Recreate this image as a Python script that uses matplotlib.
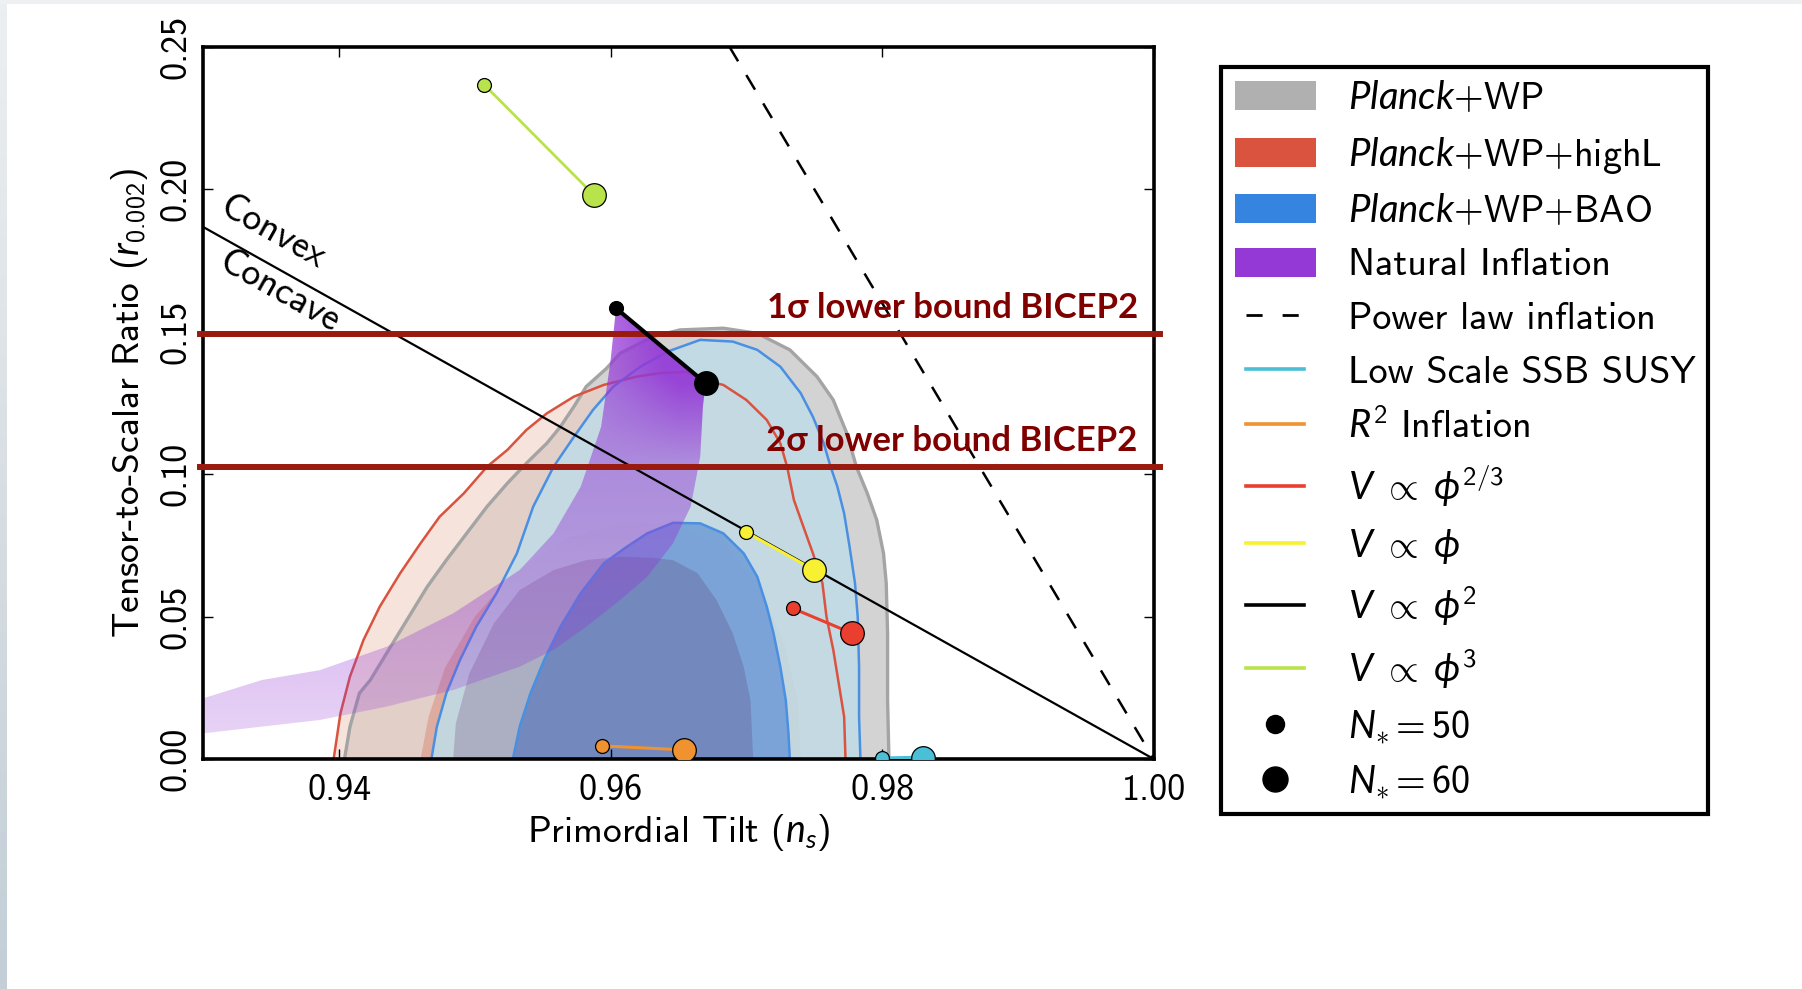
import numpy as np
import matplotlib
matplotlib.use('Agg')
import matplotlib.pyplot as plt
import matplotlib.colors as mcolors
from matplotlib.patches import Patch, Polygon, Rectangle
from matplotlib.lines import Line2D
from matplotlib.legend_handler import HandlerLine2D

# Planck 2013 constraints in the (n_s, r) plane, 68% and 95% contours
wp95_ns = [0.9404, 0.9408, 0.9415, 0.9423, 0.9435, 0.9450, 0.9465, 0.9479, 0.9494, 0.9509, 0.9524, 0.9538,
           0.9553, 0.9563, 0.9573, 0.9582, 0.9597, 0.9607, 0.9631, 0.9651, 0.9683, 0.9708, 0.9732, 0.9752,
           0.9764, 0.9774, 0.9781, 0.9789, 0.9796, 0.9801, 0.9803, 0.9804, 0.9804, 0.9805]
wp95_r = [0.0, 0.0113, 0.0231, 0.0277, 0.0371, 0.0488, 0.0605, 0.0698, 0.0792, 0.0886, 0.0968, 0.1038,
          0.1108, 0.1166, 0.1237, 0.1307, 0.1371, 0.1424, 0.1482, 0.1506, 0.1512, 0.1494, 0.1436, 0.1342,
          0.1260, 0.1143, 0.1026, 0.0933, 0.0839, 0.0722, 0.0617, 0.0441, 0.0207, 0.0]
wp68_ns = [0.9484, 0.9486, 0.9496, 0.9514, 0.9533, 0.9558, 0.9582, 0.9607, 0.9631, 0.9646, 0.9664, 0.9678,
           0.9690, 0.9698, 0.9703, 0.9705]
wp68_r = [0.0, 0.0125, 0.0301, 0.0476, 0.0593, 0.0663, 0.0698, 0.0710, 0.0706, 0.0698, 0.0652, 0.0558,
          0.0441, 0.0324, 0.0207, 0.0]

highl95_ns = [0.9396, 0.9401, 0.9408, 0.9418, 0.9430, 0.9445, 0.9460, 0.9474, 0.9492, 0.9509, 0.9524, 0.9538,
              0.9553, 0.9573, 0.9595, 0.9619, 0.9636, 0.9656, 0.9670, 0.9683, 0.9700, 0.9715, 0.9725, 0.9730,
              0.9735, 0.9742, 0.9749, 0.9756, 0.9759, 0.9764, 0.9768, 0.9772, 0.9773]
highl95_r = [0.0, 0.0160, 0.0289, 0.0418, 0.0535, 0.0652, 0.0757, 0.0850, 0.0933, 0.1026, 0.1085, 0.1155,
             0.1213, 0.1272, 0.1313, 0.1342, 0.1354, 0.1359, 0.1327, 0.1313, 0.1260, 0.1190, 0.1108, 0.1026,
             0.0909, 0.0815, 0.0722, 0.0617, 0.0499, 0.0383, 0.0266, 0.0148, 0.0]
highl68_ns = [0.9460, 0.9466, 0.9478, 0.9500, 0.9530, 0.9570, 0.9610, 0.9650, 0.9685, 0.9710, 0.9728, 0.9738, 0.9740]
highl68_r = [0.0, 0.015, 0.032, 0.050, 0.066, 0.078, 0.083, 0.082, 0.075, 0.060, 0.040, 0.020, 0.0]

bao95_ns = [0.9468, 0.9472, 0.9479, 0.9489, 0.9501, 0.9516, 0.9531, 0.9543, 0.9558, 0.9573, 0.9587, 0.9602,
            0.9622, 0.9642, 0.9666, 0.9690, 0.9708, 0.9725, 0.9740, 0.9749, 0.9757, 0.9762, 0.9767, 0.9772,
            0.9776, 0.9780, 0.9782, 0.9783, 0.9783, 0.9784]
bao95_r = [0.0, 0.0113, 0.0231, 0.0347, 0.0464, 0.0582, 0.0722, 0.0886, 0.1026, 0.1131, 0.1225, 0.1307,
           0.1377, 0.1430, 0.1471, 0.1465, 0.1436, 0.1377, 0.1284, 0.1201, 0.1108, 0.1026, 0.0956, 0.0862,
           0.0745, 0.0617, 0.0499, 0.0324, 0.0148, 0.0]
bao68_ns = [0.9528, 0.9533, 0.9541, 0.9551, 0.9563, 0.9578, 0.9595, 0.9612, 0.9627, 0.9646, 0.9666, 0.9683,
            0.9698, 0.9708, 0.9715, 0.9720, 0.9725, 0.9729, 0.9731, 0.9732]
bao68_r = [0.0, 0.0113, 0.0231, 0.0347, 0.0464, 0.0582, 0.0687, 0.0745, 0.0792, 0.0829, 0.0827, 0.0792,
           0.0722, 0.0640, 0.0535, 0.0441, 0.0324, 0.0207, 0.0090, 0.0]

# natural inflation band: N=50 edge and N=60 edge, from the phi^2 end downwards
natural_n50_ns = [0.9604, 0.9600, 0.9593, 0.9578, 0.9558, 0.9533, 0.9484, 0.9435, 0.9386, 0.9343, 0.9300]
natural_n50_r = [0.1582, 0.1400, 0.1166, 0.0956, 0.0792, 0.0663, 0.0511, 0.0394, 0.0312, 0.0277, 0.0213]
natural_n60_ns = [0.9670, 0.9668, 0.9666, 0.9659, 0.9646, 0.9627, 0.9607, 0.9582, 0.9558, 0.9533, 0.9484,
                  0.9435, 0.9386, 0.9300]
natural_n60_r = [0.1319, 0.1237, 0.1061, 0.0886, 0.0757, 0.0640, 0.0558, 0.0464, 0.0383, 0.0324, 0.0242,
                 0.0184, 0.0137, 0.0090]

# model predictions, [N*=50, N*=60]
phi3_ns, phi3_r = [0.9507, 0.9588], [0.2366, 0.1978]
phi2_ns, phi2_r = [0.9604, 0.9670], [0.1582, 0.1319]
phi1_ns, phi1_r = [0.9700, 0.9750], [0.0796, 0.0663]
phi23_ns, phi23_r = [0.9734, 0.9778], [0.0529, 0.0441]
r2_ns, r2_r = [0.9594, 0.9654], [0.0046, 0.0032]
ssb_ns, ssb_r = [0.9800, 0.9830], [0.0002, 0.0005]

powerlaw_ns, powerlaw_r = [0.96875, 1.00], [0.25, 0.0]
boundary_ns, boundary_r = [0.93, 1.00], [0.1867, 0.0]

bicep_bounds = [0.149, 0.1025]
bicep_labels = ['1σ lower bound BICEP2', '2σ lower bound BICEP2']

xticks = [0.94, 0.96, 0.98, 1.00]
yticks = [0.00, 0.05, 0.10, 0.15, 0.20, 0.25]

legend_labels = [r'$Planck$+WP', r'$Planck$+WP+highL', r'$Planck$+WP+BAO', 'Natural Inflation',
                 'Power law inflation', 'Low Scale SSB SUSY', r'$R^2$ Inflation',
                 r'$V\ \propto\ \phi^{2/3}$', r'$V\ \propto\ \phi$', r'$V\ \propto\ \phi^2$',
                 r'$V\ \propto\ \phi^3$', r'$N_{\ast}{=}50$', r'$N_{\ast}{=}60$']

plt.rcParams['font.family'] = 'cmss10'
plt.rcParams['mathtext.fontset'] = 'custom'
plt.rcParams['mathtext.rm'] = 'cmss10'
plt.rcParams['mathtext.sf'] = 'cmss10'
plt.rcParams['mathtext.it'] = 'Lato:italic'
plt.rcParams['mathtext.fallback'] = 'cm'
plt.rcParams['axes.unicode_minus'] = False

c_ssb = '#4bbfd6'
c_r2 = '#f0922f'
c_phi23 = '#ea3f2f'
c_phi1 = '#f8f032'
c_phi3 = '#b9e34a'
c_natural = '#9438d6'

fig = plt.figure(figsize=(18.02, 9.89), dpi=100)
ax = fig.add_axes([0.11282, 0.23256, 0.52741, 0.72023])

# filled confidence regions
ax.fill(wp95_ns, wp95_r, fc='#d3d3d3', ec='none', zorder=1.0)
ax.fill(highl95_ns, highl95_r, fc='#f0ccbf', alpha=0.55, ec='none', zorder=1.1)
ax.fill(highl68_ns, highl68_r, fc='#d9836f', alpha=0.45, ec='none', zorder=1.2)
ax.fill(bao95_ns, bao95_r, fc='#c0dbe6', alpha=0.88, ec='none', zorder=1.3)
ax.fill(bao68_ns, bao68_r, fc='#6f9bd6', alpha=0.85, ec='none', zorder=1.4)
ax.fill(wp68_ns, wp68_r, fc='#5a2a60', alpha=0.22, ec='none', zorder=1.5)

# contour outlines
ax.plot(wp95_ns, wp95_r, color='#a4a4a4', lw=2.4, zorder=2, solid_joinstyle='round')
ax.plot(highl95_ns, highl95_r, color='#d9533f', lw=1.8, zorder=2, solid_joinstyle='round')
ax.plot(bao95_ns, bao95_r, color='#4a90e2', lw=1.8, zorder=2, solid_joinstyle='round')
ax.plot(bao68_ns, bao68_r, color='#4a90e2', lw=1.8, zorder=2, solid_joinstyle='round')

# natural inflation band: light lavender tail, deep purple towards the phi^2 end
gx, gy = np.meshgrid(np.linspace(0.93, 1.0, 300), np.linspace(0, 0.25, 300))
top = np.clip((gy - 0.105) / 0.03, 0, 1) * np.clip((gx - 0.958) / 0.007, 0, 1)
rgba = np.zeros(gx.shape + (4,))
rgba[..., :3] = mcolors.to_rgb(c_natural)
rgba[..., 3] = np.clip(0.2 + 2.8 * gy + 0.4 * top, 0.2, 0.92)
im = ax.imshow(rgba, extent=(0.93, 1.0, 0, 0.25), origin='lower', aspect='auto',
               interpolation='bilinear', zorder=2.5)
band_xy = np.column_stack([natural_n50_ns + natural_n60_ns[::-1], natural_n50_r + natural_n60_r[::-1]])
band = Polygon(band_xy, closed=True, transform=ax.transData)
im.set_clip_path(band)

# phi^1 boundary between convex and concave potentials, and power-law inflation
ax.plot(boundary_ns, boundary_r, color='black', lw=1.6, zorder=3)
ax.plot(powerlaw_ns, powerlaw_r, color='black', lw=1.8, linestyle=(0, (6.8, 6.4)), zorder=3)

# BICEP2 lower bounds
for yb, lab in zip(bicep_bounds, bicep_labels):
    ax.axhline(yb, xmin=-0.0037, xmax=1.0063, color='#991a0e', lw=4.3, clip_on=False, zorder=3.5)
    ax.text(0.99883, yb + 0.0057, lab, ha='right', va='baseline', color='#800000',
            fontsize=25, fontweight='bold', family=['Lato', 'DejaVu Sans'], zorder=3.6)

ax.text(0.9351, 0.1845, 'Convex', rotation=-29.24, rotation_mode='anchor', ha='center', va='center',
        fontsize=27.5, zorder=3)
ax.text(0.9356, 0.1640, 'Concave', rotation=-29.24, rotation_mode='anchor', ha='center', va='center',
        fontsize=27.5, zorder=3)

# model predictions
models = [(phi3_ns, phi3_r, c_phi3, 2.0), (phi2_ns, phi2_r, 'black', 3.0), (phi1_ns, phi1_r, c_phi1, 2.2),
          (phi23_ns, phi23_r, c_phi23, 2.2), (r2_ns, r2_r, c_r2, 2.2), (ssb_ns, ssb_r, c_ssb, 2.8)]
for mx, my, col, lw in models:
    ax.plot(mx, my, color=col, lw=lw, zorder=5)
    ax.plot(mx[0], my[0], 'o', ms=10, mfc=col, mec='black', mew=0.9, zorder=6)
    ax.plot(mx[1], my[1], 'o', ms=17, mfc=col, mec='black', mew=0.9, zorder=6)

ax.set_xlim(0.93, 1.00)
ax.set_ylim(0.0, 0.25)
ax.set_xticks(xticks)
ax.set_yticks(yticks)
ax.set_xticklabels(['%.2f' % v for v in xticks])
ax.set_yticklabels(['%.2f' % v for v in yticks], rotation=90, va='center')
ax.tick_params(direction='in', top=True, right=True, length=7.5, width=1.0, labelsize=26)
ax.tick_params(axis='x', pad=11)
ax.tick_params(axis='y', pad=8)
for s in ax.spines.values():
    s.set_linewidth(2.6)

ax.set_xlabel('Primordial Tilt ($n_s$)', fontsize=27)
ax.set_ylabel('Tensor-to-Scalar Ratio ($r_{0.002}$)', fontsize=27)
ax.xaxis.set_label_coords(0.5, -0.075)
ax.yaxis.set_label_coords(-0.056, 0.5)

# legend
handles = [
    Patch(facecolor='#b0b0b0', edgecolor='none'),
    Patch(facecolor='#d9533f', edgecolor='none'),
    Patch(facecolor='#3585e0', edgecolor='none'),
    Patch(facecolor=c_natural, edgecolor='none'),
    Line2D([], [], color='black', lw=2.0, linestyle=(0, (5.8, 7.2))),
    Line2D([], [], color=c_ssb, lw=2.6),
    Line2D([], [], color=c_r2, lw=2.6),
    Line2D([], [], color=c_phi23, lw=2.6),
    Line2D([], [], color=c_phi1, lw=2.6),
    Line2D([], [], color='black', lw=2.6),
    Line2D([], [], color=c_phi3, lw=2.6),
    Line2D([], [], color='black', marker='o', ms=13, linestyle='none'),
    Line2D([], [], color='black', marker='o', ms=18, linestyle='none'),
]
short_line = HandlerLine2D(numpoints=2, marker_pad=0.3)
hmap = {h: short_line for h in handles[4:11]}
leg = fig.legend(handles, legend_labels, loc='upper left', bbox_to_anchor=(0.6776, 0.18, 0.2702, 0.7523),
                 mode='expand', borderaxespad=0, fontsize=27.5, handlelength=2.12, handleheight=0.8,
                 handletextpad=0.85, borderpad=0.36, labelspacing=0.47, fancybox=False, framealpha=1,
                 edgecolor='black', handler_map=hmap)
leg.get_frame().set_linewidth(3)

# slide edge shading
strip = fig.add_axes([0, 0, 7 / 1802, 1])
shade = mcolors.LinearSegmentedColormap.from_list('edge', ['#c3ced6', '#eceff1'])
strip.imshow(np.linspace(0, 1, 100)[:, None], cmap=shade, origin='lower', aspect='auto')
strip.axis('off')
fig.patches.append(Rectangle((0, 1 - 4 / 989), 1, 4 / 989, transform=fig.transFigure,
                             facecolor='#eef0f2', edgecolor='none'))

fig.savefig('out.png', dpi=100)
